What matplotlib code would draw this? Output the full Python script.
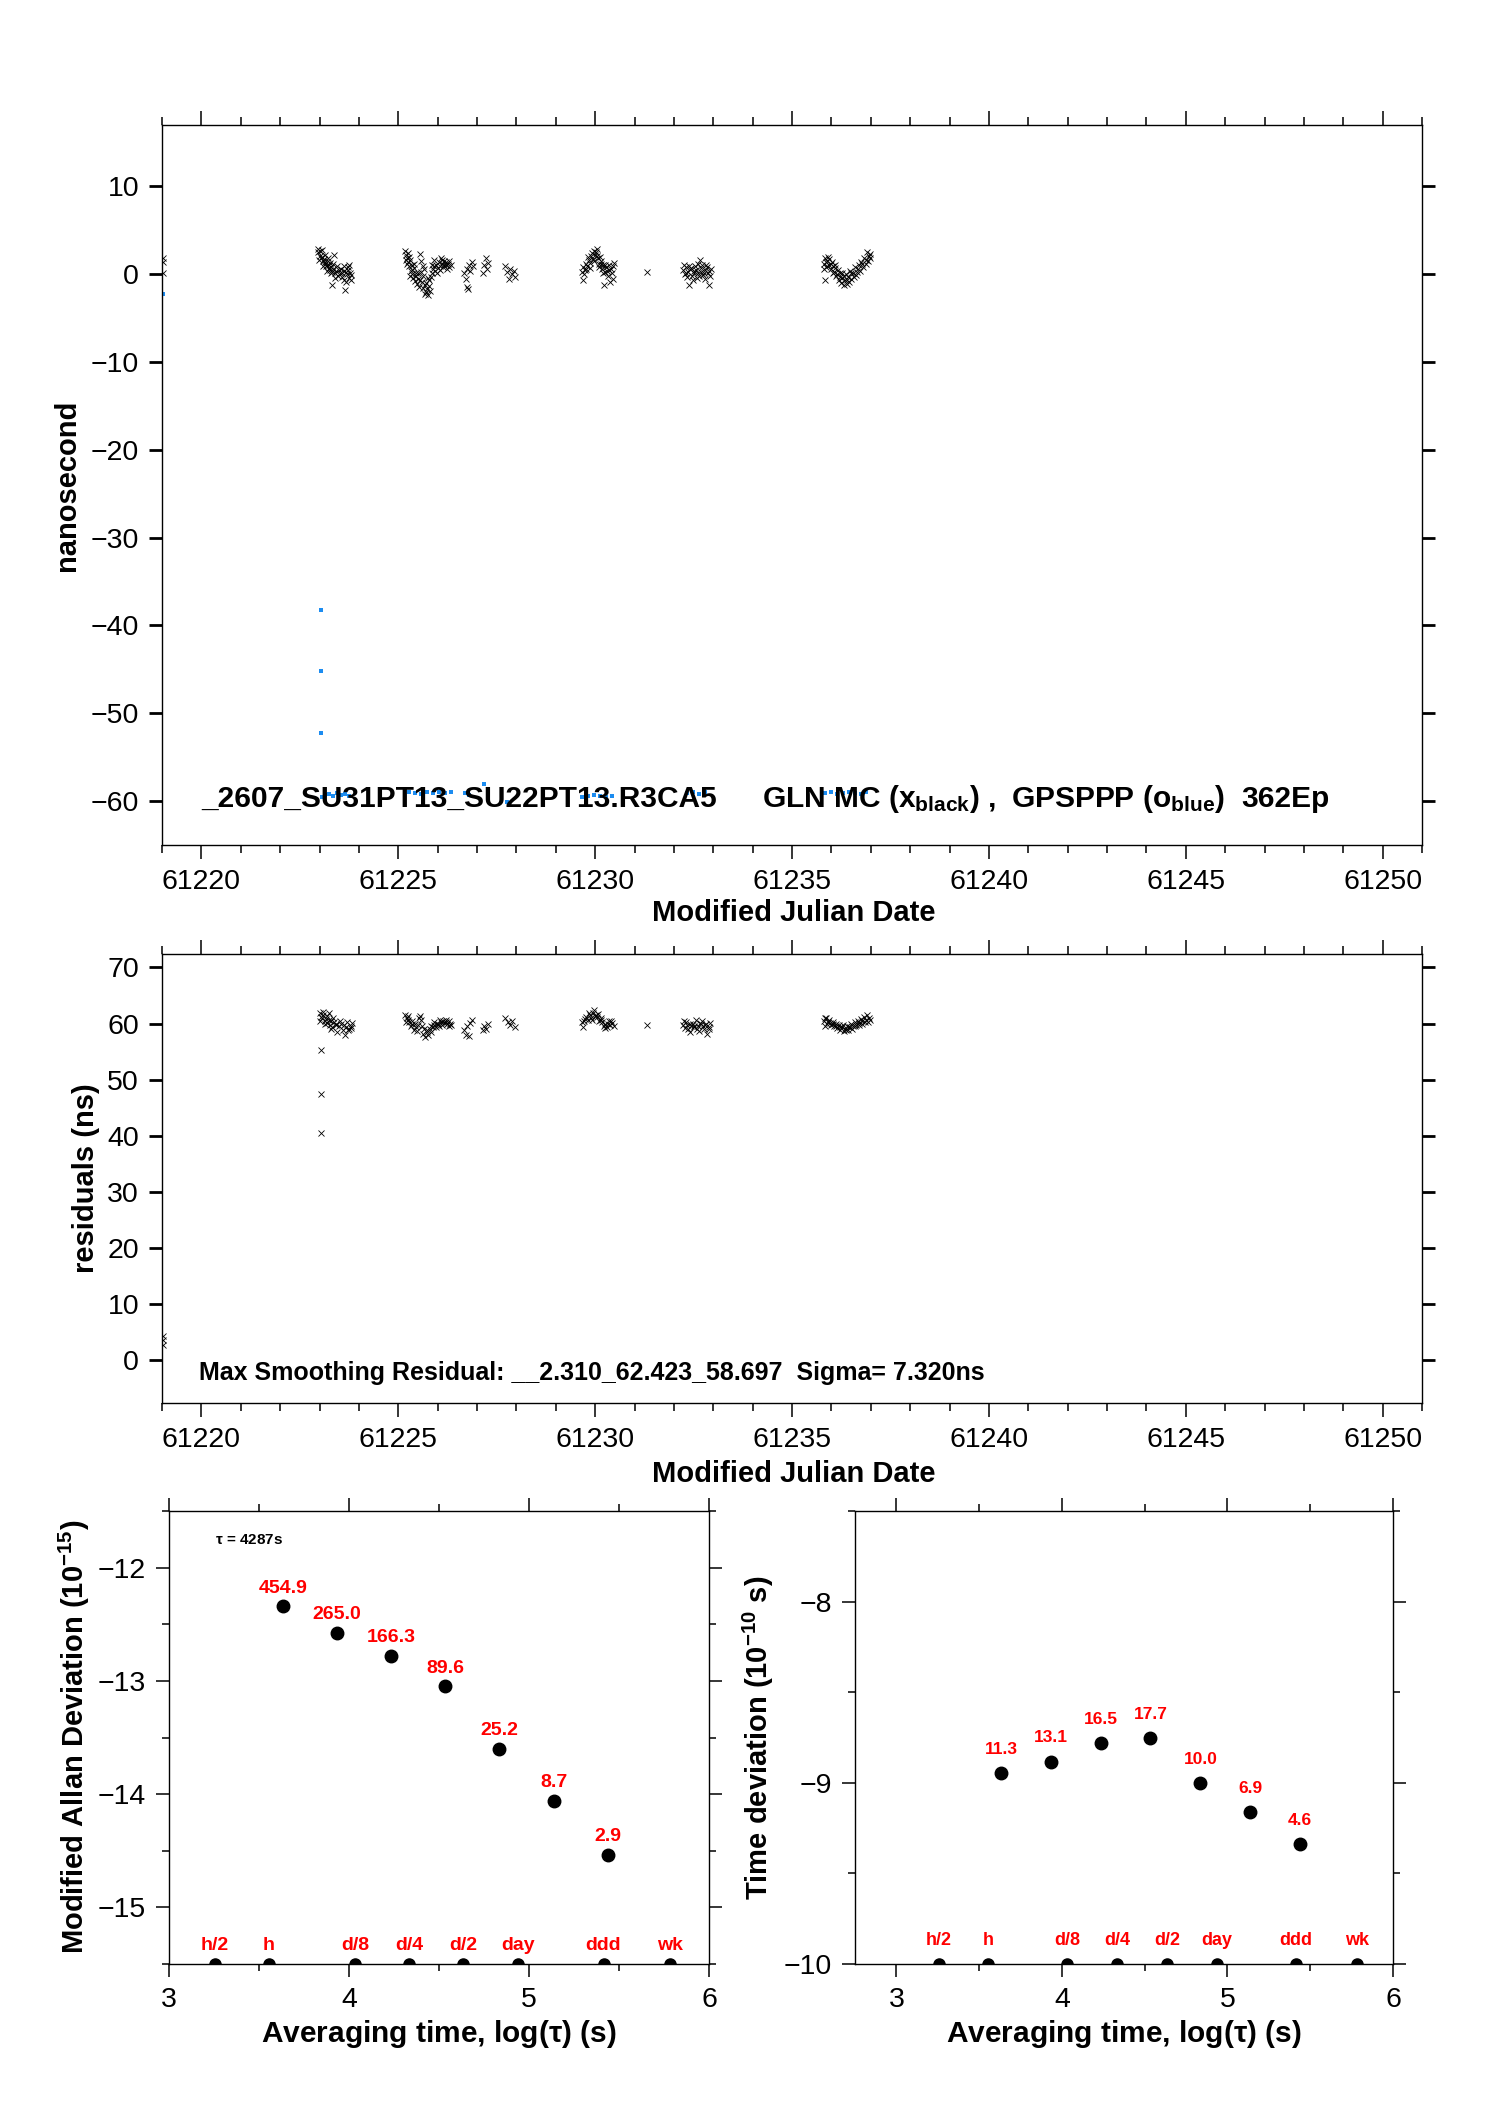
import numpy as np
import matplotlib
matplotlib.use('Agg')
import matplotlib.pyplot as plt
import matplotlib.ticker as tck

plt.rcParams['font.family'] = ['Liberation Sans', 'DejaVu Sans']
plt.rcParams['mathtext.default'] = 'regular'

# ---- data ----
# GLN MC clock offsets (black x), MJD / ns
gln = [(61219.02, 1.9), (61219.03, 1.4), (61219.02, 0.1),
       (61222.95, 2.9), (61222.97, 2.5), (61223.00, 2.1), (61223.02, 2.6), (61223.05, 1.8),
       (61223.07, 2.0), (61223.09, 1.5), (61223.11, 1.7), (61223.13, 1.2), (61223.15, 1.4),
       (61223.17, 0.9), (61223.19, 1.1), (61223.21, 1.5), (61223.23, 0.7), (61223.25, 1.0),
       (61223.27, 0.5), (61223.29, 0.8), (61223.31, -1.25), (61223.33, 0.3), (61223.35, 0.6),
       (61223.38, 2.2), (61223.40, 0.1), (61223.43, 0.4), (61223.47, -0.2), (61223.52, 0.2),
       (61223.55, 0.6), (61223.58, -0.3), (61223.61, 0.9), (61223.63, -0.6), (61223.65, -1.8),
       (61223.67, 0.3), (61223.70, 0.0), (61223.73, 0.8), (61223.75, -0.4), (61223.78, 0.2),
       (61223.81, -0.1),
       (61222.98, 1.6), (61223.06, 2.8), (61223.10, 0.9), (61223.14, 2.2), (61223.18, 0.4),
       (61223.22, 1.9), (61223.26, 1.3), (61223.30, 0.1), (61223.34, 1.2), (61223.39, -0.4),
       (61223.45, 0.9), (61223.50, 0.5), (61223.57, 0.1), (61223.62, 0.4), (61223.68, -0.9),
       (61223.72, 0.5), (61223.76, 1.1), (61223.80, -0.6),
       (61225.18, 2.7), (61225.20, 2.2), (61225.22, 1.9), (61225.24, 2.4), (61225.26, 1.4),
       (61225.28, 0.9), (61225.30, 1.6), (61225.32, 0.4), (61225.34, 1.1), (61225.36, 0.0),
       (61225.38, -0.4), (61225.40, 0.7), (61225.43, -0.8), (61225.46, -0.2), (61225.48, -1.1),
       (61225.50, -0.5), (61225.53, -1.4), (61225.56, 2.3), (61225.58, 1.5), (61225.60, -0.9),
       (61225.62, 0.9), (61225.64, -1.6), (61225.66, 0.6), (61225.68, -1.2), (61225.70, -2.0),
       (61225.73, -1.7), (61225.76, -2.4), (61225.78, -0.7), (61225.80, -1.9), (61225.83, -0.3),
       (61225.86, 0.2), (61225.88, 0.6), (61225.91, 0.9), (61225.94, 0.4), (61225.97, 1.1),
       (61226.00, 0.7), (61226.03, 1.4), (61226.06, 0.9), (61226.08, 1.9), (61226.11, 1.2),
       (61226.14, 0.8), (61226.17, 1.5), (61226.20, 1.0), (61226.23, 0.6), (61226.26, 1.2),
       (61226.30, 0.8), (61226.34, 1.0),
       (61225.19, 1.6), (61225.23, 1.2), (61225.27, 2.0), (61225.31, -0.2), (61225.35, 0.5),
       (61225.39, 1.2), (61225.44, 0.2), (61225.51, 0.1), (61225.55, -0.6), (61225.59, 0.3),
       (61225.63, -0.2), (61225.67, -2.3), (61225.71, -1.0), (61225.75, -0.4), (61225.79, -1.3),
       (61225.85, 1.0), (61225.92, 1.6), (61225.98, 0.2), (61226.05, 0.5), (61226.10, 1.6),
       (61226.15, 1.1), (61226.21, 1.4), (61226.28, 1.5),
       (61226.67, 0.2), (61226.71, -0.5), (61226.74, 0.6), (61226.75, -1.5), (61226.76, -1.7),
       (61226.79, 1.0), (61226.83, 0.4), (61226.87, 1.4), (61226.89, 0.9),
       (61227.16, 0.1), (61227.19, 1.0), (61227.22, 1.8), (61227.25, 0.6), (61227.28, 1.3),
       (61227.70, 0.9), (61227.76, 0.3), (61227.80, -0.5), (61227.84, 0.6), (61227.88, 0.0),
       (61227.94, 0.4), (61227.96, -0.3),
       (61229.66, 0.3), (61229.68, -0.7), (61229.70, 0.8), (61229.74, 0.5), (61229.77, 1.2),
       (61229.80, 0.9), (61229.84, 1.6), (61229.87, 1.3), (61229.90, 2.1), (61229.94, 1.7),
       (61229.97, 2.6), (61230.00, 2.2), (61230.04, 2.9), (61230.07, 1.8), (61230.10, 1.2),
       (61230.14, 1.5), (61230.17, 0.6), (61230.20, 1.0), (61230.22, -1.25), (61230.24, 0.3),
       (61230.28, 0.8), (61230.32, -0.2), (61230.36, 0.5), (61230.39, -0.9), (61230.42, 0.2),
       (61230.46, -0.5), (61230.49, 1.3),
       (61229.72, 0.0), (61229.78, 0.6), (61229.82, 2.0), (61229.88, 0.7), (61229.92, 2.4),
       (61229.98, 1.5), (61230.02, 2.5), (61230.05, 2.1), (61230.09, 0.8), (61230.12, 2.0),
       (61230.16, 1.2), (61230.19, 0.1), (61230.26, 1.0), (61230.30, 0.4), (61230.34, 1.1),
       (61230.41, 0.6), (61230.45, 0.9),
       (61231.31, 0.27),
       (61232.24, 0.5), (61232.27, 0.0), (61232.30, 0.8), (61232.33, -0.3), (61232.36, 0.3),
       (61232.39, -1.25), (61232.42, 0.6), (61232.46, -0.2), (61232.50, 0.4), (61232.54, 0.9),
       (61232.58, -0.4), (61232.62, 0.2), (61232.66, 1.6), (61232.70, 0.7), (61232.74, -0.1),
       (61232.78, 0.5), (61232.82, 1.1), (61232.86, 0.2), (61232.90, -1.2), (61232.94, 0.6),
       (61232.26, 1.0), (61232.32, 0.1), (61232.38, 0.9), (61232.44, 0.7), (61232.48, -0.6),
       (61232.52, 0.1), (61232.56, 0.5), (61232.60, 1.2), (61232.64, -0.2), (61232.68, 0.3),
       (61232.72, 1.0), (61232.76, 0.1), (61232.80, -0.5), (61232.84, 0.8), (61232.88, 0.4),
       (61232.92, -0.2),
       (61235.81, 1.2), (61235.83, -0.7), (61235.85, 1.8), (61235.87, 0.8), (61235.89, 1.5),
       (61235.92, 2.0), (61235.95, 1.1), (61235.98, 0.6), (61236.01, 1.4), (61236.04, 0.9),
       (61236.07, 0.3), (61236.10, 1.0), (61236.13, -0.2), (61236.16, 0.5), (61236.19, -0.6),
       (61236.22, 0.1), (61236.25, -1.0), (61236.28, -0.4), (61236.31, -1.25), (61236.34, -0.7),
       (61236.37, 0.0), (61236.40, -1.1), (61236.43, -0.3), (61236.47, 0.4), (61236.51, -0.5),
       (61236.55, 0.2), (61236.59, 0.8), (61236.63, -0.1), (61236.67, 0.6), (61236.71, 1.0),
       (61236.75, 1.4), (61236.79, 1.2), (61236.83, 1.9), (61236.87, 1.6), (61236.91, 2.5),
       (61236.95, 2.1), (61236.99, 1.8),
       (61235.82, 0.6), (61235.86, 1.4), (61235.90, 0.9), (61235.94, 1.7), (61235.99, 1.2),
       (61236.03, 0.2), (61236.09, 0.7), (61236.15, 0.0), (61236.21, -0.3), (61236.27, 0.2),
       (61236.33, -0.2), (61236.39, -0.6), (61236.45, -0.9), (61236.49, 0.1), (61236.57, -0.3),
       (61236.65, 0.3), (61236.73, 0.4), (61236.81, 0.8), (61236.89, 1.2), (61236.93, 1.5),
       (61236.97, 2.3)]

# GPSPPP (blue), MJD / ns
ppp = [(61219.03, -2.3),
       (61223.03, -38.2), (61223.03, -45.2), (61223.03, -52.3),
       (61223.07, -59.5), (61223.15, -59.3), (61223.25, -59.2), (61223.35, -59.4),
       (61223.45, -59.1), (61223.55, -59.3), (61223.65, -59.2), (61223.75, -59.4),
       (61225.28, -59.0), (61225.43, -59.1), (61225.58, -59.2), (61225.73, -59.0),
       (61225.88, -59.1), (61226.03, -59.0), (61226.18, -59.1), (61226.33, -59.0),
       (61226.69, -59.1), (61226.79, -59.3), (61227.19, -58.1), (61227.76, -60.1),
       (61229.67, -59.5), (61229.82, -59.4), (61229.97, -59.3), (61230.12, -59.4),
       (61230.27, -59.5), (61230.42, -59.4),
       (61232.34, -59.1), (61232.49, -59.0), (61232.64, -59.2), (61232.79, -59.0),
       (61235.84, -59.1), (61235.99, -59.0), (61236.14, -59.2), (61236.29, -59.1),
       (61236.44, -59.0), (61236.59, -59.1), (61236.74, -59.2), (61236.89, -59.0)]

# smoothing residuals (black x), MJD / ns
resid = [(61219.02, 4.2), (61219.03, 3.5), (61219.02, 2.6),
         (61223.03, 55.3), (61223.03, 47.4), (61223.03, 40.5),
         (61223.00, 61.8), (61223.03, 61.2), (61223.07, 60.9), (61223.10, 61.5), (61223.13, 60.5),
         (61223.17, 60.8), (61223.20, 60.1), (61223.23, 61.9), (61223.27, 59.8), (61223.30, 60.4),
         (61223.33, 59.4), (61223.37, 60.2), (61223.41, 59.7), (61223.45, 58.5), (61223.50, 59.5),
         (61223.55, 60.0), (61223.60, 58.9), (61223.65, 58.0), (61223.68, 59.3), (61223.71, 60.3),
         (61223.75, 59.0), (61223.79, 59.6), (61223.83, 60.1),
         (61223.02, 60.4), (61223.09, 62.1), (61223.15, 59.9), (61223.19, 61.3), (61223.25, 60.6),
         (61223.29, 59.1), (61223.35, 60.9), (61223.43, 59.9), (61223.53, 60.4), (61223.63, 59.7),
         (61223.73, 58.8), (61223.81, 59.2),
         (61225.18, 61.6), (61225.21, 61.0), (61225.24, 60.7), (61225.28, 60.2), (61225.32, 59.6),
         (61225.36, 59.9), (61225.40, 58.9), (61225.44, 59.3), (61225.48, 58.6), (61225.52, 60.9),
         (61225.56, 61.3), (61225.60, 59.5), (61225.64, 58.2), (61225.68, 57.6), (61225.72, 58.5),
         (61225.76, 57.9), (61225.80, 59.1), (61225.84, 59.6), (61225.88, 59.3), (61225.92, 59.8),
         (61225.96, 59.4), (61226.00, 60.0), (61226.04, 59.6), (61226.08, 60.3), (61226.12, 59.8),
         (61226.16, 60.1), (61226.20, 60.6), (61226.24, 59.9), (61226.28, 60.4), (61226.32, 60.0),
         (61226.35, 59.7),
         (61225.20, 60.3), (61225.26, 61.4), (61225.34, 60.5), (61225.42, 60.0), (61225.50, 59.7),
         (61225.58, 60.6), (61225.66, 59.0), (61225.74, 58.9), (61225.82, 58.4), (61225.90, 60.2),
         (61225.98, 59.9), (61226.06, 60.6), (61226.14, 60.5), (61226.22, 60.2), (61226.30, 59.6),
         (61226.67, 58.9), (61226.71, 58.0), (61226.75, 59.6), (61226.79, 57.8), (61226.83, 60.1),
         (61226.87, 60.7),
         (61227.16, 58.8), (61227.19, 59.5), (61227.23, 59.1), (61227.27, 59.9),
         (61227.72, 60.9), (61227.78, 60.2), (61227.84, 59.7), (61227.90, 60.4), (61227.96, 59.3),
         (61229.67, 60.2), (61229.70, 59.4), (61229.74, 60.8), (61229.78, 61.2), (61229.82, 60.6),
         (61229.86, 61.5), (61229.90, 61.0), (61229.94, 61.8), (61229.98, 62.4), (61230.02, 61.6),
         (61230.06, 61.1), (61230.10, 60.5), (61230.14, 61.0), (61230.18, 60.2), (61230.22, 59.6),
         (61230.26, 60.0), (61230.30, 59.3), (61230.34, 60.4), (61230.38, 59.8), (61230.42, 60.1),
         (61230.47, 59.5),
         (61229.72, 60.5), (61229.84, 61.9), (61229.92, 60.7), (61230.00, 61.3), (61230.08, 61.7),
         (61230.16, 60.6), (61230.24, 59.2), (61230.32, 59.9), (61230.40, 60.5),
         (61231.31, 59.8),
         (61232.24, 59.8), (61232.28, 59.2), (61232.32, 60.3), (61232.36, 59.0), (61232.40, 58.4),
         (61232.44, 59.6), (61232.48, 60.0), (61232.52, 59.3), (61232.56, 60.6), (61232.60, 59.5),
         (61232.64, 58.7), (61232.68, 59.9), (61232.72, 60.4), (61232.76, 59.1), (61232.80, 59.7),
         (61232.84, 58.2), (61232.88, 59.4), (61232.92, 60.1),
         (61232.26, 60.5), (61232.34, 59.7), (61232.42, 59.9), (61232.50, 59.6), (61232.58, 59.1),
         (61232.66, 60.1), (61232.74, 59.6), (61232.82, 60.0), (61232.90, 59.0),
         (61235.81, 60.4), (61235.84, 59.6), (61235.87, 60.9), (61235.91, 60.2), (61235.95, 60.6),
         (61235.99, 59.8), (61236.03, 60.3), (61236.07, 59.5), (61236.11, 60.0), (61236.15, 59.2),
         (61236.19, 59.7), (61236.23, 58.9), (61236.27, 59.4), (61236.31, 58.6), (61236.35, 59.1),
         (61236.39, 59.6), (61236.43, 58.8), (61236.47, 59.3), (61236.51, 59.9), (61236.55, 59.5),
         (61236.59, 60.2), (61236.63, 59.8), (61236.67, 60.5), (61236.71, 60.1), (61236.75, 60.8),
         (61236.79, 60.4), (61236.83, 61.2), (61236.87, 60.7), (61236.91, 61.5), (61236.95, 61.0),
         (61236.99, 60.6),
         (61235.83, 61.0), (61235.89, 59.9), (61235.97, 60.1), (61236.05, 59.9), (61236.13, 59.6),
         (61236.21, 59.3), (61236.29, 59.8), (61236.37, 58.9), (61236.45, 59.4), (61236.53, 59.0),
         (61236.61, 59.6), (61236.69, 59.7), (61236.77, 60.0), (61236.85, 60.3), (61236.93, 60.3)]

# stability plots
tau_log = [3.632, 3.933, 4.234, 4.535, 4.836, 5.137, 5.438]
mdev = [454.9, 265.0, 166.3, 89.6, 25.2, 8.7, 2.9]      # 1e-15
tdev = [11.3, 13.1, 16.5, 17.7, 10.0, 6.9, 4.6]         # 1e-10 s
mark_names = ['h/2', 'h', 'd/8', 'd/4', 'd/2', 'day', 'ddd', 'wk']
mark_log = [3.255, 3.556, 4.033, 4.334, 4.636, 4.937, 5.414, 5.782]

# title pieces and where they start (MJD)
title_parts = ['_2607_SU31PT13_SU22PT13.R3CA5', 'GLN MC (x$_{black}$) ,',
               'GPSPPP (o$_{blue}$)', '362Ep']
title_x = [61220.0, 61234.25, 61240.56, 61246.4]
resid_txt = 'Max Smoothing Residual: __2.310_62.423_58.697  Sigma= 7.320ns'

BLUE = '#1C8CF0'
W, H = 1488, 2105
fig = plt.figure(figsize=(W / 100, H / 100), dpi=100)


def box(l, t, r, b):
    return [l / W, 1 - b / H, (r - l) / W, (b - t) / H]


ax1 = fig.add_axes(box(162, 125, 1422, 845))
ax2 = fig.add_axes(box(162, 954, 1422, 1403))
ax3 = fig.add_axes(box(169, 1511, 709, 1964))
ax4 = fig.add_axes(box(855, 1511, 1393, 1964))


def mjd_axis(ax, ylo, yhi, yticks):
    ax.set_xlim(61219, 61251)
    ax.set_ylim(ylo, yhi)
    ax.xaxis.set_major_locator(tck.MultipleLocator(5))
    ax.xaxis.set_minor_locator(tck.MultipleLocator(1))
    ax.set_yticks(yticks)
    ax.tick_params(axis='x', which='both', direction='out', top=True, bottom=True,
                   labelsize=20.5, pad=7, width=1.1)
    ax.tick_params(axis='x', which='major', length=10)
    ax.tick_params(axis='x', which='minor', length=5.5)
    ax.tick_params(axis='y', direction='out', left=True, right=True, length=9.5,
                   width=2, labelsize=20.5, pad=7)
    for s in ax.spines.values():
        s.set_linewidth(1.0)


def dev_axis(ax, xlo, ylo, yhi):
    ax.set_xlim(xlo, 6)
    ax.set_ylim(ylo, yhi)
    ax.xaxis.set_major_locator(tck.MultipleLocator(1))
    ax.xaxis.set_minor_locator(tck.MultipleLocator(0.5))
    ax.yaxis.set_major_locator(tck.MultipleLocator(1))
    ax.yaxis.set_minor_locator(tck.MultipleLocator(0.5))
    ax.tick_params(which='both', direction='out', top=True, right=True,
                   labelsize=20.5, width=1.1, pad=7)
    ax.tick_params(which='major', length=9.5)
    ax.tick_params(which='minor', length=5)
    for s in ax.spines.values():
        s.set_linewidth(1.0)


# panel 1: clock offsets
gx, gy = zip(*gln)
px, py = zip(*ppp)
ax1.plot(px, py, 's', color=BLUE, ms=2.6, mew=0, zorder=2)
ax1.plot(gx, gy, 'x', color='black', ms=4.2, mew=0.6, zorder=3)
mjd_axis(ax1, -65, 17, np.arange(-60, 11, 10))
for x, t in zip(title_x, title_parts):
    ax1.text(x, -59.8, t, fontsize=21.5, fontweight='bold', ha='left', va='center', zorder=5)

# panel 2: residuals
rx, ry = zip(*resid)
ax2.plot(rx, ry, 'x', color='black', ms=4.2, mew=0.6)
mjd_axis(ax2, -7.7, 72.4, np.arange(0, 71, 10))
ax2.text(61219.95, -2.3, resid_txt, fontsize=18, fontweight='bold',
         ha='left', va='center')

# panel 3: modified Allan deviation
dev_axis(ax3, 3, -15.5, -11.5)
ay = np.log10(mdev) - 15
ax3.plot(tau_log, ay, 'o', color='black', ms=9)
for x, y, v in zip(tau_log, ay, mdev):
    ax3.annotate(f'{v:.1f}', (x, y), xytext=(0, 13), textcoords='offset points',
                 ha='center', va='center', color='red', fontsize=14, fontweight='bold')
ax3.plot(mark_log, [-15.5] * len(mark_log), 'o', color='black', ms=8)
for x, n in zip(mark_log, mark_names):
    ax3.text(x, -15.34, n, ha='center', va='center', color='red', fontsize=14, fontweight='bold')
ax3.text(3.256, -11.755, r'$\tau$ = 4287s', fontsize=11, fontweight='bold', va='center')

# panel 4: time deviation
dev_axis(ax4, 2.75, -10, -7.5)
ty = np.log10(tdev) - 10
ax4.plot(tau_log, ty, 'o', color='black', ms=9)
for x, y, v in zip(tau_log, ty, tdev):
    ax4.annotate(f'{v:.1f}', (x, y), xytext=(0, 17), textcoords='offset points',
                 ha='center', va='center', color='red', fontsize=12.5, fontweight='bold')
ax4.plot(mark_log, [-10] * len(mark_log), 'o', color='black', ms=8)
for x, n in zip(mark_log, mark_names):
    ax4.text(x, -9.868, n, ha='center', va='center', color='red', fontsize=13, fontweight='bold')

# axis labels
lab = dict(fontsize=21, fontweight='bold', ha='center', va='center')
fig.text(67 / W, 1 - 485 / H, 'nanosecond', rotation=90, **lab)
fig.text(794 / W, 1 - 913 / H, 'Modified Julian Date', **lab)
fig.text(86 / W, 1 - 1178 / H, 'residuals (ns)', rotation=90, **lab)
fig.text(794 / W, 1 - 1474 / H, 'Modified Julian Date', **lab)
fig.text(74 / W, 1 - 1737 / H, 'Modified Allan Deviation (10$^{-15}$)', rotation=90, **lab)
fig.text(439 / W, 1 - 2034 / H, r'Averaging time, log($\tau$) (s)', fontsize=21.5,
         fontweight='bold', ha='center', va='center')
fig.text(758 / W, 1 - 1738 / H, 'Time deviation (10$^{-10}$ s)', rotation=90, **lab)
fig.text(1124 / W, 1 - 2034 / H, r'Averaging time, log($\tau$) (s)', fontsize=21.5,
         fontweight='bold', ha='center', va='center')

fig.savefig('out.png', dpi=100)
